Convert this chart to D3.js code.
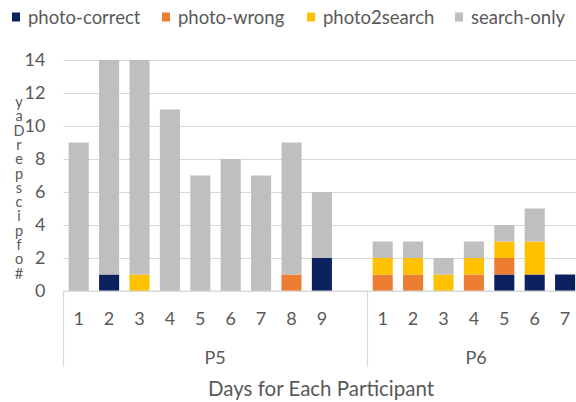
<!DOCTYPE html>
<html>
<head>
<meta charset="utf-8">
<script src="https://cdn.jsdelivr.net/npm/d3@7"></script>
<style>
  html, body { margin: 0; padding: 0; background: #fff; }
  svg { display: block; font-family: Lato, "Open Sans", sans-serif; }
  .ylab { writing-mode: vertical-rl; text-orientation: upright; }
</style>
</head>
<body>
<svg id="chart" width="576" height="402"></svg>
<script>
// ---- data ----
const participants = ["P5", "P6"];
const p5Days = ["1", "2", "3", "4", "5", "6", "7", "8", "9"];
const p6Days = ["1", "2", "3", "4", "5", "6", "7"];
const seriesNames = ["photo-correct", "photo-wrong", "photo2search", "search-only"];
const seriesColors = ["#0b2160", "#ed7d31", "#ffc000", "#bfbfbf"];

const p5PhotoCorrect = [0, 1, 0, 0, 0, 0, 0, 0, 2];
const p5PhotoWrong   = [0, 0, 0, 0, 0, 0, 0, 1, 0];
const p5Photo2search = [0, 0, 1, 0, 0, 0, 0, 0, 0];
const p5SearchOnly   = [9, 13, 13, 11, 7, 8, 7, 8, 4];

const p6PhotoCorrect = [0, 0, 0, 0, 1, 1, 1];
const p6PhotoWrong   = [1, 1, 0, 1, 1, 0, 0];
const p6Photo2search = [1, 1, 1, 1, 1, 2, 0];
const p6SearchOnly   = [1, 1, 1, 1, 1, 2, 0];

const yTicks = [0, 2, 4, 6, 8, 10, 12, 14];
const yLabelText = "# of pics per Day";
const xTitle = "Days for Each Participant";

// ---- build rows ----
const rows = [];
p5Days.forEach((d, i) => rows.push({key: "P5-" + d, day: d, participant: "P5",
  "photo-correct": p5PhotoCorrect[i], "photo-wrong": p5PhotoWrong[i],
  "photo2search": p5Photo2search[i], "search-only": p5SearchOnly[i]}));
const gapKey = "P5-gap";
p6Days.forEach((d, i) => rows.push({key: "P6-" + d, day: d, participant: "P6",
  "photo-correct": p6PhotoCorrect[i], "photo-wrong": p6PhotoWrong[i],
  "photo2search": p6Photo2search[i], "search-only": p6SearchOnly[i]}));
const domain = rows.slice(0, p5Days.length).map(r => r.key)
  .concat([gapKey])
  .concat(rows.slice(p5Days.length).map(r => r.key));

const svg = d3.select("#chart");
const textColor = "#595959";

const plotLeft = 63.5, step = 30.4;
const x = d3.scaleBand().domain(domain)
  .range([plotLeft, plotLeft + step * domain.length])
  .paddingInner(0.34).paddingOuter(0.17);
const y = d3.scaleLinear().domain([0, 14]).range([291, 60]);

// gridlines + y tick labels
const yAxis = d3.axisLeft(y).tickValues(yTicks)
  .tickSize(-(600 - plotLeft)).tickPadding(18);
const gy = svg.append("g").attr("transform", `translate(${plotLeft},0)`).call(yAxis);
gy.select(".domain").remove();
gy.selectAll(".tick line").attr("stroke", "#d9d9d9").attr("stroke-width", 1.2);
gy.selectAll(".tick text").attr("fill", textColor).attr("font-size", 18)
  .attr("font-family", "Lato, sans-serif");

// stacked bars
const stack = d3.stack().keys(seriesNames);
const stacked = stack(rows);
const color = d3.scaleOrdinal().domain(seriesNames).range(seriesColors);
svg.append("g").selectAll("g").data(stacked).join("g")
  .attr("fill", d => color(d.key))
  .selectAll("rect").data(d => d).join("rect")
  .attr("x", d => x(d.data.key))
  .attr("width", x.bandwidth())
  .attr("y", d => y(d[1]))
  .attr("height", d => y(d[0]) - y(d[1]));

// x axis line (baseline)
svg.append("line").attr("x1", plotLeft).attr("x2", 600)
  .attr("y1", y(0)).attr("y2", y(0)).attr("stroke", "#d9d9d9").attr("stroke-width", 1.2);

// day labels
svg.append("g").selectAll("text").data(rows).join("text")
  .attr("x", d => x(d.key) + x.bandwidth() / 2)
  .attr("y", 318)
  .attr("text-anchor", "middle").attr("dominant-baseline", "central")
  .attr("fill", textColor).attr("font-size", 18)
  .text(d => d.day);

// group separators
const p6Start = x("P6-1") - x.step() * x.paddingInner() / 2;
const sepXs = [plotLeft, p6Start, plotLeft + step * domain.length];
svg.append("g").selectAll("line").data(sepXs).join("line")
  .attr("x1", d => d).attr("x2", d => d)
  .attr("y1", y(0)).attr("y2", 367)
  .attr("stroke", "#d9d9d9").attr("stroke-width", 1.2);

// participant labels
const groupLabelX = [215, 476];
svg.append("g").selectAll("text").data(participants).join("text")
  .attr("x", (d, i) => groupLabelX[i])
  .attr("y", 357)
  .attr("text-anchor", "middle").attr("dominant-baseline", "central")
  .attr("fill", textColor).attr("font-size", 18)
  .text(d => d);

// x title
svg.append("text").attr("x", 321).attr("y", 388)
  .attr("text-anchor", "middle").attr("dominant-baseline", "central")
  .attr("fill", textColor).attr("font-size", 20.5)
  .text(xTitle);

// y label: single vertical text, upright letters, read bottom-to-top as in the reference
const yLabelStacked = yLabelText.replace(/ /g, "").split("").reverse().join("");
svg.append("text").attr("class", "ylab")
  .attr("x", 19).attr("y", 93)
  .attr("fill", textColor).attr("font-size", 14.5)
  .attr("letter-spacing", -2.7)
  .text(yLabelStacked);

// legend
const legendX = [12, 162, 307, 455];
const lg = svg.append("g").selectAll("g").data(seriesNames).join("g")
  .attr("transform", (d, i) => `translate(${legendX[i]},0)`);
lg.append("rect").attr("x", 0).attr("y", 12.5).attr("width", 8).attr("height", 9)
  .attr("fill", d => color(d));
lg.append("text").attr("x", 16).attr("y", 17)
  .attr("dominant-baseline", "central")
  .attr("fill", textColor).attr("font-size", 18.5)
  .text(d => d);
</script>
</body>
</html>
